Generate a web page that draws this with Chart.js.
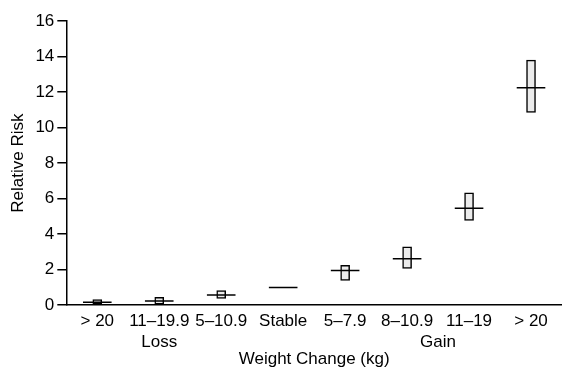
<!DOCTYPE html>
<html>
<head>
<meta charset="utf-8">
<script src="https://cdn.jsdelivr.net/npm/chart.js@4/dist/chart.umd.min.js"></script>
<style>
  html, body { margin: 0; padding: 0; background: #fff; }
  #wrap { width: 562px; height: 370px; position: relative; }
</style>
</head>
<body>
<div id="wrap"><canvas id="rr"></canvas></div>
<script>
const weightLabels = ["> 20", "11–19.9", "5–10.9", "Stable", "5–7.9", "8–10.9", "11–19", "> 20"];
const riskEstimate = [0.17, 0.24, 0.58, 1.0, 1.95, 2.61, 5.46, 12.24];
const riskLower = [0.08, 0.06, 0.38, null, 1.39, 2.07, 4.77, 10.86];
const riskUpper = [0.32, 0.44, 0.83, null, 2.25, 3.28, 6.33, 13.8];
const groupNames = ["Loss", "Gain"];
const groupCenters = [1, 5.5]; // category index (fractional = between two)
const yTicks = [0, 2, 4, 6, 8, 10, 12, 14, 16];

const FONT = "Liberation Sans, Arial, sans-serif";
Chart.defaults.font.family = FONT;
Chart.defaults.color = "#000";

const groupLabelPlugin = {
  id: "groupLabels",
  afterDraw(chart) {
    const x = chart.scales.x;
    const ctx = chart.ctx;
    ctx.save();
    ctx.font = "17px " + FONT;
    ctx.fillStyle = "#000";
    ctx.textAlign = "center";
    ctx.textBaseline = "middle";
    groupNames.forEach((name, i) => {
      const c = groupCenters[i];
      const lo = Math.floor(c), hi = Math.ceil(c);
      const px = (x.getPixelForTick(lo) + x.getPixelForTick(hi)) / 2;
      ctx.fillText(name, px, x.top + 37);
    });
    ctx.restore();
  }
};

new Chart(document.getElementById("rr"), {
  data: {
    labels: weightLabels,
    datasets: [
      {
        type: "bar",
        label: "95% CI",
        data: riskLower.map((lo, i) => (lo == null ? null : [lo, riskUpper[i]])),
        backgroundColor: "#ebebeb",
        borderColor: "#000",
        borderWidth: 1.5,
        borderSkipped: false,
        barThickness: 9,
        order: 2
      },
      {
        type: "line",
        label: "Relative Risk",
        data: riskEstimate,
        showLine: false,
        pointStyle: "line",
        pointRadius: 14.3,
        pointHoverRadius: 14.3,
        pointBorderWidth: 1.5,
        borderColor: "#000",
        pointBorderColor: "#000",
        order: 1
      }
    ]
  },
  options: {
    responsive: true,
    maintainAspectRatio: false,
    animation: false,
    layout: { autoPadding: false, padding: { top: 21, right: -6, left: 8, bottom: 0 } },
    plugins: {
      legend: { display: false },
      tooltip: { enabled: false }
    },
    scales: {
      x: {
        offset: true,
        grid: { display: false, drawTicks: false, tickLength: 0 },
        border: { color: "#000", width: 1.5 },
        ticks: { font: { size: 17 }, padding: 6, maxRotation: 0, autoSkip: false },
        afterFit: (scale) => { scale.paddingLeft = 0; scale.paddingRight = 0; },
        title: {
          display: true,
          text: "Weight Change (kg)",
          font: { size: 17 },
          padding: { top: 12, bottom: 0 }
        }
      },
      y: {
        min: 0,
        max: 16,
        afterBuildTicks: (axis) => { axis.ticks = yTicks.map((v) => ({ value: v })); },
        grid: { drawOnChartArea: false, drawTicks: true, tickLength: 9, color: "#000", lineWidth: 1.5 },
        border: { color: "#000", width: 1.5 },
        ticks: { font: { size: 17 }, padding: 3 },
        title: {
          display: true,
          text: "Relative Risk",
          font: { size: 17 },
          padding: { top: 0, bottom: 4 }
        }
      }
    }
  },
  plugins: [groupLabelPlugin]
});
</script>
</body>
</html>
